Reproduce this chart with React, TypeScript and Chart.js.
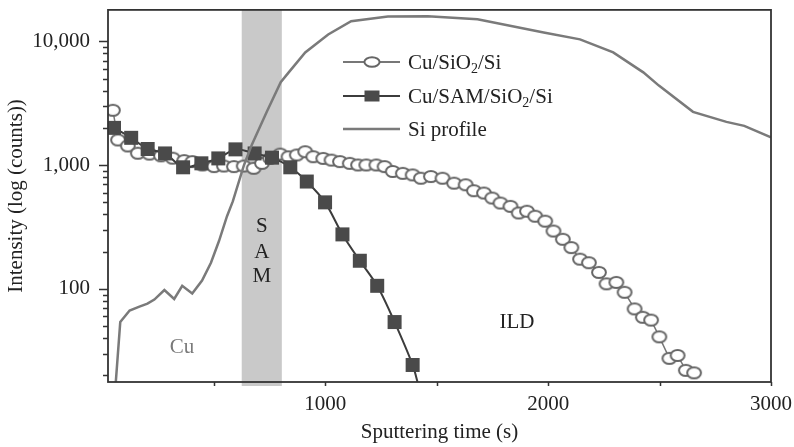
import { useEffect, useRef } from "react";
import { Chart, registerables } from "chart.js";

Chart.register(...registerables);

// Si depth profile (continuous trace)
const siTime = [57, 80, 122, 166, 202, 233, 278, 322, 358, 403, 447, 487, 523, 559, 585, 635, 670, 737, 800, 835, 910, 1013, 1116, 1281, 1460, 1683, 1980, 2143, 2292, 2427, 2497, 2650, 2800, 2880, 3000];
const siCounts = [15, 54, 67, 72, 76, 82, 98, 83, 106, 92, 117, 163, 244, 387, 510, 1000, 1460, 2690, 4680, 5600, 8150, 11400, 14600, 15900, 16000, 15100, 11800, 10400, 8170, 5630, 4400, 2700, 2240, 2080, 1680];

// Cu signal, Cu/SiO2/Si stack
const cuTime = [47, 70, 114, 159, 211, 263, 315, 367, 404, 449, 501, 545, 590, 634, 679, 716, 753, 798, 835, 872, 910, 946, 991, 1028, 1066, 1110, 1147, 1184, 1229, 1266, 1303, 1348, 1392, 1429, 1474, 1526, 1578, 1630, 1667, 1712, 1749, 1786, 1831, 1868, 1905, 1942, 1987, 2024, 2066, 2104, 2143, 2183, 2228, 2262, 2306, 2343, 2388, 2425, 2462, 2499, 2544, 2581, 2618, 2655];
const cuCounts = [2780, 1600, 1430, 1250, 1230, 1190, 1140, 1090, 1070, 1005, 975, 985, 975, 985, 945, 1035, 1135, 1230, 1170, 1210, 1285, 1172, 1135, 1100, 1070, 1036, 1005, 1005, 1005, 975, 890, 860, 835, 785, 810, 785, 716, 695, 622, 596, 543, 495, 465, 411, 425, 387, 353, 294, 252, 216, 174, 163, 136, 110, 113, 94, 69, 59, 56, 41, 27.5, 29, 22, 21];

// Cu signal, Cu/SAM/SiO2/Si stack (last entry is the trace tail, no marker)
const samTime = [52, 129, 203, 281, 362, 444, 520, 597, 683, 761, 843, 917, 999, 1077, 1155, 1233, 1311, 1392, 1420];
const samCounts = [2004, 1665, 1352, 1245, 962, 1036, 1135, 1343, 1245, 1151, 962, 738, 501, 276, 169, 106, 54, 24.3, 16];

// SAM layer window (s)
const samBand = [625, 805];

const xMajorTicks = [1000, 2000, 3000];
const xMinorTicks = [500, 1500, 2500];
const yMajorTicks = [100, 1000, 10000];
const yMinorTicks = [20, 30, 40, 50, 60, 70, 80, 90, 200, 300, 400, 500, 600, 700, 800, 900, 2000, 3000, 4000, 5000, 6000, 7000, 8000, 9000];

const legendLabels = ["Cu/SiO|2|/Si", "Cu/SAM/SiO|2|/Si", "Si profile"];

const FONT = "'Liberation Serif', 'DejaVu Serif', serif";
const INK = "#222";

function makeEllipse(w: number, h: number, rx: number, ry: number) {
  const c = document.createElement("canvas");
  c.width = w;
  c.height = h;
  const g = c.getContext("2d")!;
  g.fillStyle = "#fff";
  g.strokeStyle = "#666";
  g.lineWidth = 2;
  g.beginPath();
  g.ellipse(w / 2, h / 2, rx, ry, 0, 0, Math.PI * 2);
  g.fill();
  g.stroke();
  return c;
}

function drawRichText(ctx: CanvasRenderingContext2D, text: string, x: number, y: number) {
  // segments between '|' are drawn as subscripts
  const parts = text.split("|");
  let cx = x;
  parts.forEach((p, i) => {
    const sub = i % 2 === 1;
    ctx.font = sub ? `14px ${FONT}` : `21px ${FONT}`;
    ctx.fillText(p, cx, sub ? y + 6 : y);
    cx += ctx.measureText(p).width;
  });
}

function noPadding(s: any) {
  s.paddingLeft = 0;
  s.paddingRight = 0;
  s.paddingTop = 0;
  s.paddingBottom = 0;
}

export default function App() {
  const ref = useRef<HTMLCanvasElement | null>(null);

  useEffect(() => {
    const canvas = ref.current;
    if (!canvas) return;
    const ellipse = makeEllipse(18, 15, 6.9, 5.6);
    const legendEllipse = makeEllipse(20, 14, 7.6, 4.8);

    const decor = {
      id: "decor",
      beforeDatasetsDraw(chart: any) {
        const { ctx, chartArea: a, scales } = chart;
        const x0 = scales.x.getPixelForValue(samBand[0]);
        const x1 = scales.x.getPixelForValue(samBand[1]);
        ctx.save();
        ctx.fillStyle = "#c9c9c9";
        ctx.fillRect(x0, a.top, x1 - x0, a.bottom - a.top + 4);
        ctx.restore();
      },
      afterDraw(chart: any) {
        const { ctx, chartArea: a, scales } = chart;
        const xs = scales.x;
        const ys = scales.y;
        ctx.save();

        // frame
        ctx.strokeStyle = "#333";
        ctx.lineWidth = 1.8;
        ctx.strokeRect(a.left, a.top, a.right - a.left, a.bottom - a.top);

        // tick marks
        ctx.lineWidth = 1.5;
        ctx.beginPath();
        yMajorTicks.forEach((v) => {
          const py = Math.round(ys.getPixelForValue(v)) + 0.5;
          ctx.moveTo(a.left - 9, py);
          ctx.lineTo(a.left, py);
        });
        yMinorTicks.forEach((v) => {
          const py = Math.round(ys.getPixelForValue(v)) + 0.5;
          ctx.moveTo(a.left - 5, py);
          ctx.lineTo(a.left, py);
        });
        [...xMajorTicks, ...xMinorTicks].forEach((v) => {
          const px = Math.round(xs.getPixelForValue(v)) + 0.5;
          ctx.moveTo(px, a.bottom);
          ctx.lineTo(px, a.bottom + 4);
        });
        ctx.stroke();

        // region labels
        ctx.textAlign = "center";
        ctx.textBaseline = "middle";
        ctx.font = `21px ${FONT}`;
        ctx.fillStyle = INK;
        const bandMid = xs.getPixelForValue((samBand[0] + samBand[1]) / 2);
        ["S", "A", "M"].forEach((ch, i) => {
          ctx.fillText(ch, bandMid, ys.getPixelForValue([322, 196, 125.6][i]));
        });
        ctx.fillText("ILD", xs.getPixelForValue(1860), ys.getPixelForValue(53.7));
        ctx.fillStyle = "#7a7a7a";
        ctx.fillText("Cu", xs.getPixelForValue(357), ys.getPixelForValue(33.8));

        // axis titles
        ctx.fillStyle = INK;
        ctx.font = `21px ${FONT}`;
        ctx.fillText("Sputtering time (s)", (a.left + a.right) / 2, 432);
        ctx.save();
        ctx.translate(16, (a.top + a.bottom) / 2);
        ctx.rotate(-Math.PI / 2);
        ctx.fillText("Intensity (log (counts))", 0, 0);
        ctx.restore();

        // legend
        const lx0 = 343;
        const lx1 = 400;
        const mx = 372;
        const rows = [62, 96, 129];
        ctx.lineWidth = 2;
        ctx.strokeStyle = "#777";
        ctx.beginPath();
        ctx.moveTo(lx0, rows[0]);
        ctx.lineTo(lx1, rows[0]);
        ctx.stroke();
        ctx.drawImage(legendEllipse, mx - legendEllipse.width / 2, rows[0] - legendEllipse.height / 2);
        ctx.strokeStyle = "#3c3c3c";
        ctx.beginPath();
        ctx.moveTo(lx0, rows[1]);
        ctx.lineTo(lx1, rows[1]);
        ctx.stroke();
        ctx.fillStyle = "#4a4a4a";
        ctx.fillRect(mx - 7.5, rows[1] - 5.5, 15, 11);
        ctx.strokeStyle = "#7a7a7a";
        ctx.lineWidth = 2.5;
        ctx.beginPath();
        ctx.moveTo(lx0, rows[2]);
        ctx.lineTo(lx1, rows[2]);
        ctx.stroke();

        ctx.textAlign = "left";
        ctx.fillStyle = INK;
        legendLabels.forEach((t, i) => drawRichText(ctx, t, 408, rows[i] + 1));

        ctx.restore();
      },
    };

    const chart = new Chart(canvas, {
      type: "line",
      data: {
        datasets: [
          {
            label: "Si profile",
            data: siTime.map((t, i) => ({ x: t, y: siCounts[i] })),
            borderColor: "#7a7a7a",
            borderWidth: 2.5,
            pointRadius: 0,
            tension: 0,
            order: 0,
          },
          {
            label: "Cu/SAM/SiO2/Si",
            data: samTime.map((t, i) => ({ x: t, y: samCounts[i] })),
            borderColor: "#3c3c3c",
            borderWidth: 2,
            backgroundColor: "#4a4a4a",
            pointStyle: "rect",
            pointRadius: (c: any) => (c.dataIndex === samTime.length - 1 ? 0 : 9.9),
            pointBorderWidth: 0,
            tension: 0.3,
            order: 1,
          },
          {
            label: "Cu/SiO2/Si",
            data: cuTime.map((t, i) => ({ x: t, y: cuCounts[i] })),
            borderColor: "#777",
            borderWidth: 1.5,
            pointStyle: ellipse,
            pointRadius: 7,
            tension: 0,
            order: 2,
          },
        ],
      },
      options: {
        responsive: false,
        animation: false,
        events: [],
        layout: { padding: { top: 7, right: 23, left: 0, bottom: 0 } },
        plugins: { legend: { display: false }, tooltip: { enabled: false } },
        scales: {
          x: {
            type: "linear",
            min: 25,
            max: 3000,
            grid: { display: false, drawTicks: false },
            border: { display: false },
            afterFit: (s: any) => {
              s.height = 65;
              noPadding(s);
            },
            afterBuildTicks: (s: any) => {
              s.ticks = xMajorTicks.map((v) => ({ value: v }));
            },
            ticks: {
              autoSkip: false,
              maxRotation: 0,
              padding: 10,
              color: INK,
              font: { family: FONT, size: 21 },
              callback: (v: any) => String(v),
            },
          },
          y: {
            type: "logarithmic",
            min: 17.7,
            max: 18000,
            grid: { display: false, drawTicks: false },
            border: { display: false },
            afterFit: (s: any) => {
              s.width = 108;
              noPadding(s);
            },
            afterBuildTicks: (s: any) => {
              s.ticks = yMajorTicks.map((v) => ({ value: v }));
            },
            ticks: {
              autoSkip: false,
              padding: 18,
              color: INK,
              font: { family: FONT, size: 21 },
              callback: (v: any) => Number(v).toLocaleString("en-US"),
            },
          },
        },
      },
      plugins: [decor],
    } as any);

    return () => chart.destroy();
  }, []);

  return (
    <div style={{ position: "fixed", left: 0, top: 0, width: 794, height: 447, background: "#fff" }}>
      <canvas ref={ref} width={794} height={447} style={{ display: "block" }} />
    </div>
  );
}
